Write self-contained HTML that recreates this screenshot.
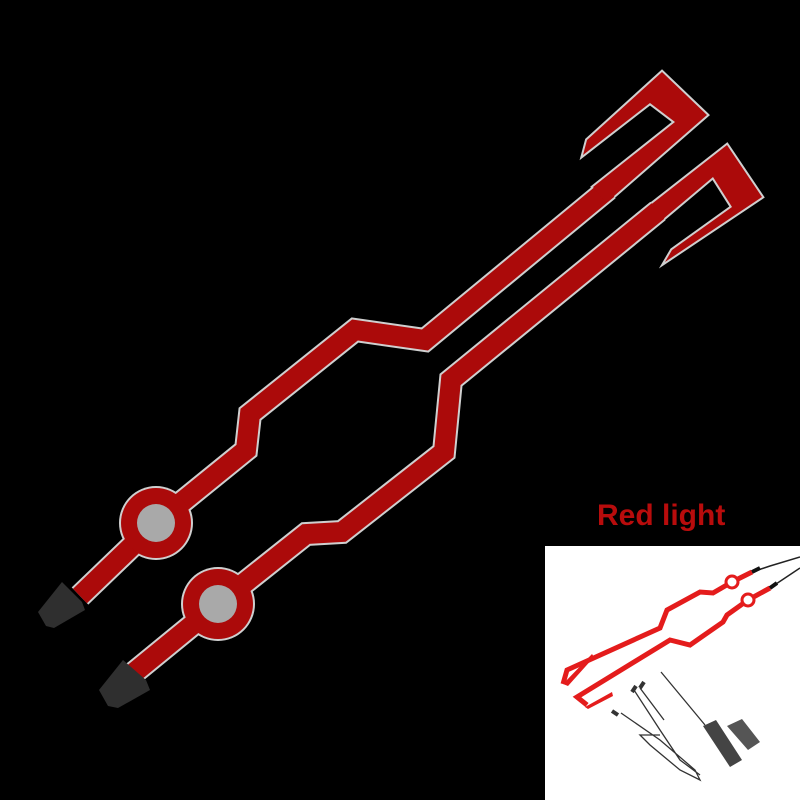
<!DOCTYPE html>
<html><head><meta charset="utf-8"><style>
html,body{margin:0;padding:0;background:#000;width:800px;height:800px;overflow:hidden}
svg{display:block}
</style></head><body>
<svg width="800" height="800" viewBox="0 0 800 800" xmlns="http://www.w3.org/2000/svg">
<rect width="800" height="800" fill="#000"/>
<g stroke-linejoin="miter" stroke-miterlimit="10" fill="none">
  <!-- outlines -->
  <polyline points="80,596 156,523 246,450 250,414 355,330 425,340 608,189" stroke="#cfcfcf" stroke-width="24"/>
  <polyline points="130,676 218,604 306,534 342,532 444,452 451,380 658,211" stroke="#cfcfcf" stroke-width="24"/>
  <polygon points="707,115 662,72 587,140 583,155 650,103 675,122 593,187 606,203" fill="#cfcfcf" stroke="#cfcfcf" stroke-width="4"/>
  <polygon points="727,145 762,197 665,262 672,250 732,207 713,177 656,225 644,210" fill="#cfcfcf" stroke="#cfcfcf" stroke-width="4"/>
  <circle cx="156" cy="523" r="37" fill="#cfcfcf"/>
  <circle cx="218" cy="604" r="37" fill="#cfcfcf"/>
  <!-- red -->
  <polyline points="80,596 156,523 246,450 250,414 355,330 425,340 608,189" stroke="#ab0a0a" stroke-width="20"/>
  <polyline points="130,676 218,604 306,534 342,532 444,452 451,380 658,211" stroke="#ab0a0a" stroke-width="20"/>
  <polygon points="707,115 662,72 587,140 583,155 650,103 675,122 593,187 606,203" fill="#ab0a0a"/>
  <polygon points="727,145 762,197 665,262 672,250 732,207 713,177 656,225 644,210" fill="#ab0a0a"/>
  <circle cx="156" cy="523" r="35" fill="#ab0a0a"/>
  <circle cx="218" cy="604" r="35" fill="#ab0a0a"/>
  <circle cx="156" cy="523" r="19" fill="#a9a9a9"/>
  <circle cx="218" cy="604" r="19" fill="#a9a9a9"/>
</g>
<!-- plugs -->
<polygon points="38,612 62,582 82,602 85,610 54,628 46,626" fill="#2f2f2f"/>
<polygon points="99,690 123,660 146,680 150,690 118,708 108,706" fill="#2f2f2f"/>
<text x="597" y="525" font-family="Liberation Sans, sans-serif" font-weight="bold" font-size="30" fill="#b80c0c">Red light</text>
<!-- inset -->
<rect x="545" y="546" width="255" height="254" fill="#fff"/>
<g fill="none" stroke-linejoin="miter">
  <polyline points="752,572 732,582 713,593 700,592 667,610 660,628 567,670 563,684" stroke="#e41c1c" stroke-width="5"/>
  <polygon points="563,684 592,654 594,657 568,686" fill="#e41c1c" stroke="none"/>
  <polyline points="770,588 748,600 727,615 723,622 690,645 670,640 577,697 587,705" stroke="#e41c1c" stroke-width="5"/>
  <polygon points="585,707 612,692 613,696 588,709" fill="#e41c1c" stroke="none"/>
  <circle cx="732" cy="582" r="6" fill="#fff" stroke="#e41c1c" stroke-width="3"/>
  <circle cx="748" cy="600" r="6" fill="#fff" stroke="#e41c1c" stroke-width="3"/>
  <path d="M752,572 L770,566 L800,557" stroke="#222" stroke-width="1.5"/>
  <path d="M770,588 L785,578 L800,568" stroke="#222" stroke-width="1.5"/>
  <path d="M752,572 l8,-4 M770,588 l7,-5" stroke="#111" stroke-width="4"/>
  <path d="M661,672 L705,725 M634,690 L660,730 L680,760 L700,775 M640,688 L664,720 M621,713 L660,740 L695,770 L700,780 L680,770 L650,745 L640,735 L660,735" stroke="#333" stroke-width="1.3"/>
  <path d="M632,692 l4,-6 M640,688 l4,-6 M618,715 l-6,-4" stroke="#333" stroke-width="4"/>
</g>
<polygon points="703,726 716,720 742,760 730,767" fill="#444"/>
<polygon points="727,726 742,719 760,742 748,750" fill="#555"/>
</svg>
</body></html>
